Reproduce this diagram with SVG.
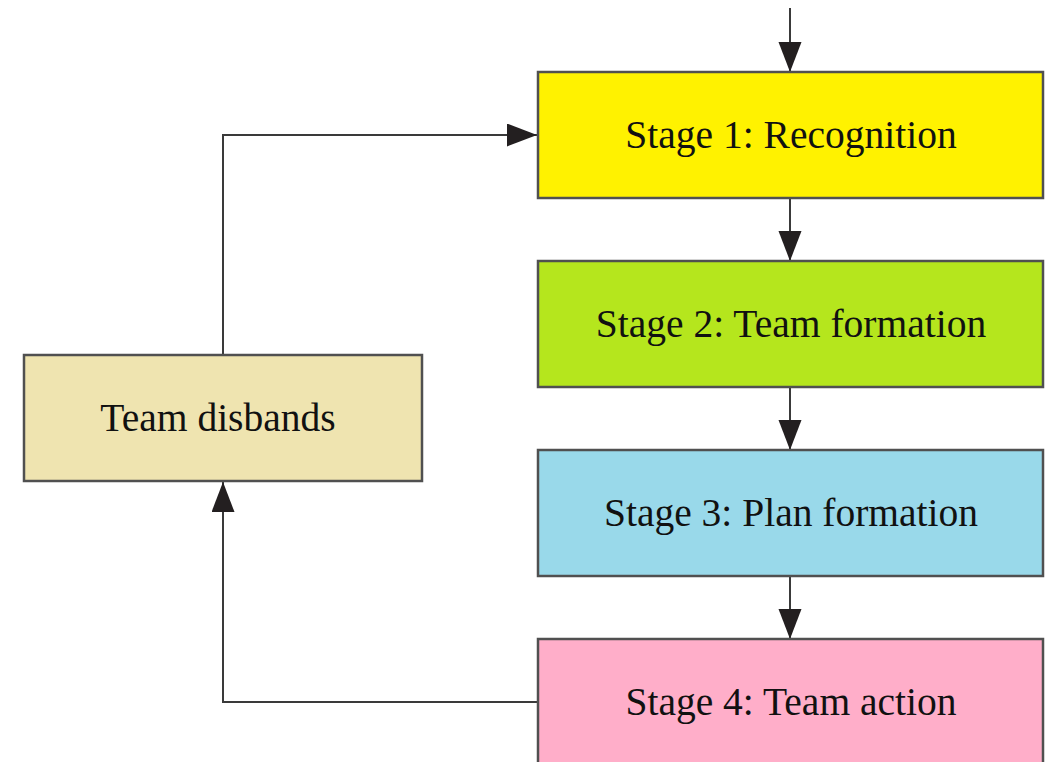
<svg xmlns="http://www.w3.org/2000/svg" width="1056" height="762" viewBox="0 0 1056 762">
  <style>
    .box { stroke: #505050; stroke-width: 2.5; }
    .lbl { font-family: "Liberation Serif", "Times New Roman", serif; font-size: 39.5px; fill: #111; text-anchor: middle; }
    .edge { fill: none; stroke: #3a3a3a; stroke-width: 2; }
  </style>
  <defs>
    <marker id="head" markerUnits="userSpaceOnUse" markerWidth="32" markerHeight="24" refX="30" refY="11.5" orient="auto">
      <path d="M0,0 L30,11.5 L0,23 Z" fill="#231f20"/>
    </marker>
  </defs>
  <rect width="1056" height="762" fill="#ffffff"/>

  <g id="connectors">
    <line class="edge" x1="790" y1="8" x2="790" y2="72" marker-end="url(#head)"/>
    <line class="edge" x1="790" y1="198" x2="790" y2="261" marker-end="url(#head)"/>
    <line class="edge" x1="790" y1="387" x2="790" y2="450" marker-end="url(#head)"/>
    <line class="edge" x1="790" y1="576" x2="790" y2="639" marker-end="url(#head)"/>
    <polyline class="edge" points="538,702 223,702 223,482" marker-end="url(#head)"/>
    <polyline class="edge" points="223,355 223,135 537,135" marker-end="url(#head)"/>
  </g>

  <g id="stage1">
    <rect class="box" x="538" y="72" width="505" height="126" fill="#FFF200"/>
    <text class="lbl" x="791" y="148">Stage 1: Recognition</text>
  </g>
  <g id="stage2">
    <rect class="box" x="538" y="261" width="505" height="126" fill="#B5E61D"/>
    <text class="lbl" x="791" y="337">Stage 2: Team formation</text>
  </g>
  <g id="stage3">
    <rect class="box" x="538" y="450" width="505" height="126" fill="#99D9EA"/>
    <text class="lbl" x="791" y="526">Stage 3: Plan formation</text>
  </g>
  <g id="stage4">
    <rect class="box" x="538" y="639" width="505" height="140" fill="#FFAEC9"/>
    <text class="lbl" x="791" y="715">Stage 4: Team action</text>
  </g>
  <g id="disbands">
    <rect class="box" x="24" y="355" width="398" height="126" fill="#EFE4B0"/>
    <text class="lbl" x="218" y="431">Team disbands</text>
  </g>
</svg>
